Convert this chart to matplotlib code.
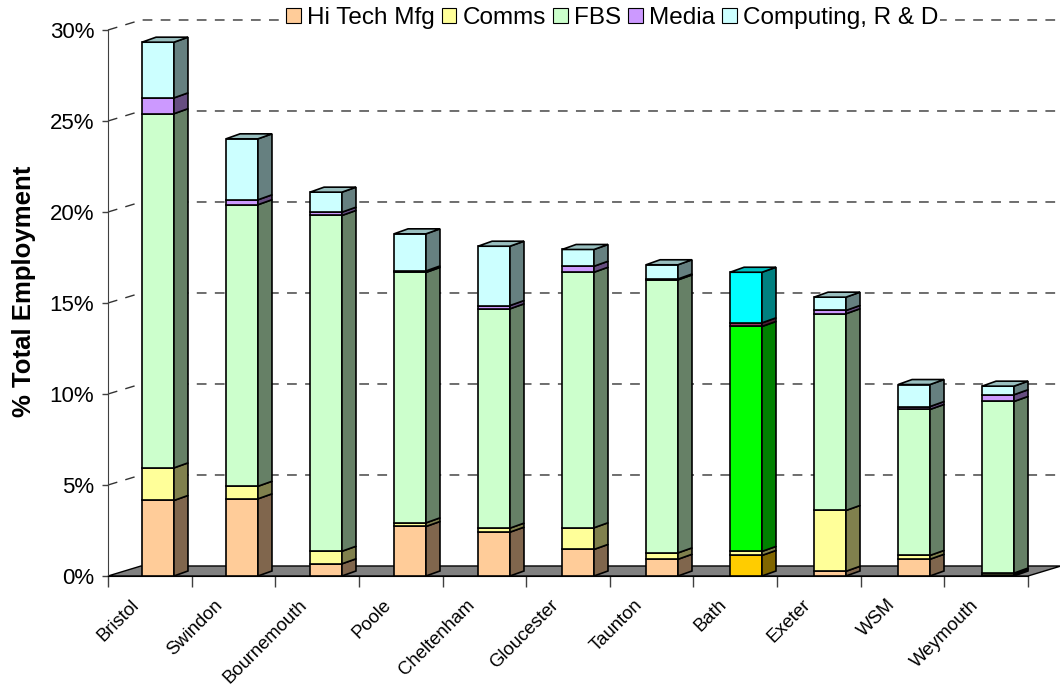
import numpy as np
import matplotlib.pyplot as plt
from matplotlib.patches import Polygon, Patch
from matplotlib.colors import to_rgb
from matplotlib.ticker import FuncFormatter

plt.rcParams['font.family'] = ['Liberation Sans', 'DejaVu Sans']
plt.rcParams['lines.scale_dashes'] = False

cities = ['Bristol', 'Swindon', 'Bournemouth', 'Poole', 'Cheltenham', 'Gloucester',
          'Taunton', 'Bath', 'Exeter', 'WSM', 'Weymouth']

# % of total employment by sector
hitech = [4.15, 4.24, 0.67, 2.72, 2.41, 1.46, 0.92, 1.13, 0.26, 0.92, 0.08]
comms = [1.79, 0.69, 0.69, 0.20, 0.22, 1.19, 0.35, 0.22, 3.34, 0.21, 0.08]
fbs = [19.46, 15.47, 18.45, 13.76, 12.05, 14.04, 15.00, 12.36, 10.81, 8.02, 9.43]
media = [0.87, 0.27, 0.18, 0.08, 0.18, 0.33, 0.05, 0.20, 0.18, 0.16, 0.37]
computing = [3.06, 3.35, 1.10, 2.04, 3.26, 0.92, 0.78, 2.78, 0.73, 1.21, 0.47]

sectors = ['Hi Tech Mfg', 'Comms', 'FBS', 'Media', 'Computing, R & D']
series = [hitech, comms, fbs, media, computing]
colors = ['#FFCC99', '#FFFF99', '#CCFFCC', '#CC99FF', '#CCFFFF']
bath_colors = ['#FFCC00', '#FFFF99', '#00FF00', '#993366', '#00FFFF']


def shade(c, f):
    return tuple(np.array(to_rgb(c)) * f)


fig = plt.figure(figsize=(10.6, 6.86), dpi=100)
ax = fig.add_axes([108 / 1060, 110 / 686, 920 / 1060, 546 / 686])
x0, x1 = -0.595, 10.357
ax.set_xlim(x0, x1)
ax.set_ylim(0, 30)

# depth offsets for the fake 3d look
bdx, bdy = 0.167, 0.275
wdx, wdy = 0.393, 0.55
w = 0.38

# back walls with dashed gridlines
for v in range(5, 31, 5):
    ax.plot([x0, x0 + wdx, x1 + wdx], [v, v + wdy, v + wdy], color='#333333', lw=1,
            ls=(0, (7, 6)), clip_on=False, zorder=1)

# floor
ax.add_patch(Polygon([(x0, 0), (x1, 0), (x1 + wdx, wdy), (x0 + wdx, wdy)], closed=True,
                     facecolor='#808080', edgecolor='black', lw=1, clip_on=False, zorder=2))

x = np.arange(len(cities))
bottom = np.zeros(len(cities))
for j, vals in enumerate(series):
    vals = np.array(vals)
    cols = [bath_colors[j] if c == 'Bath' else colors[j] for c in cities]
    ax.bar(x, vals, bottom=bottom, width=w, color=cols, edgecolor='black', lw=1.2, zorder=3)
    for i in range(len(cities)):
        b, t = bottom[i], bottom[i] + vals[i]
        xr = x[i] + w / 2
        ax.add_patch(Polygon([(xr, b), (xr + bdx, b + bdy), (xr + bdx, t + bdy), (xr, t)],
                             closed=True, facecolor=shade(cols[i], 0.5), edgecolor='black',
                             lw=1.2, clip_on=False, zorder=3))
        if j == len(series) - 1:
            xl = x[i] - w / 2
            ax.add_patch(Polygon([(xl, t), (xr, t), (xr + bdx, t + bdy), (xl + bdx, t + bdy)],
                                 closed=True, facecolor=shade(cols[i], 0.75), edgecolor='black',
                                 lw=1.2, clip_on=False, zorder=3))
    bottom = bottom + vals

for s in ['top', 'right']:
    ax.spines[s].set_visible(False)
ax.spines['left'].set_color('#404040')
ax.spines['bottom'].set_color('black')
ax.spines['bottom'].set_zorder(2.5)

ax.set_yticks(range(0, 31, 5))
ax.yaxis.set_major_formatter(FuncFormatter(lambda v, p: '%d%%' % v))
ax.tick_params(axis='y', length=4, width=1, color='#404040', labelsize=16, pad=6)

ax.set_xticks(np.linspace(x0, x1, 12), minor=True)
ax.tick_params(axis='x', which='minor', length=8, width=1, color='#404040')
ax.set_xticks(x - 0.26, cities, rotation=45, ha='right', va='center', rotation_mode='anchor')
ax.tick_params(axis='x', which='major', length=0, labelsize=13.3, pad=19)

ax.set_ylabel('% Total Employment', fontsize=18.5, fontweight='bold')
ax.yaxis.set_label_coords(-0.078, 0.522)

handles = [Patch(facecolor=c, edgecolor='black', lw=0.8) for c in colors]
leg = fig.legend(handles, sectors, loc='center', bbox_to_anchor=(612 / 1060, 1 - 18 / 686),
                 ncol=5, fontsize=17.5, frameon=True, fancybox=False, framealpha=1,
                 handlelength=0.6, handleheight=0.6, handletextpad=0.25, columnspacing=0.3,
                 borderpad=0.1, borderaxespad=0)
leg.get_frame().set_edgecolor('white')
leg.get_frame().set_linewidth(0)

fig.savefig('out.png', dpi=100)
